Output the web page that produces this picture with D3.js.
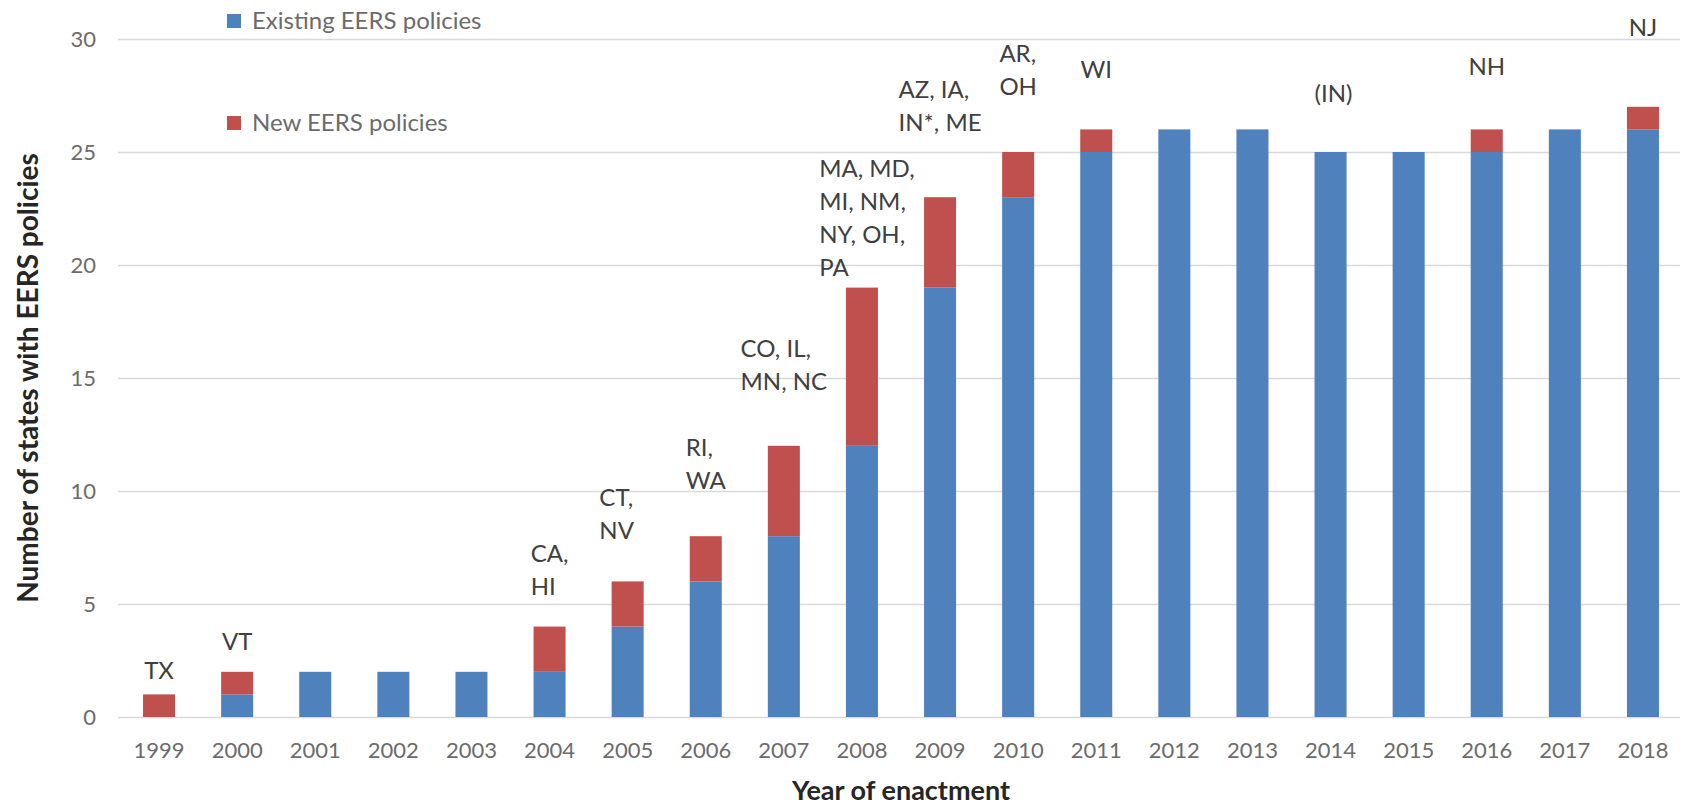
<!DOCTYPE html>
<html>
<head>
<meta charset="utf-8">
<script src="https://cdn.jsdelivr.net/npm/d3@7"></script>
<style>
  html, body { margin: 0; padding: 0; background: #fff; }
  svg { display: block; }
  text { font-family: Lato, "Open Sans", sans-serif; }
</style>
</head>
<body>
<svg id="chart" width="1687" height="811"></svg>
<script>
// Year of enactment
const years = ["1999","2000","2001","2002","2003","2004","2005","2006","2007","2008",
               "2009","2010","2011","2012","2013","2014","2015","2016","2017","2018"];
// States that already had an EERS policy
const existing = [0,1,2,2,2,2,4,6,8,12,19,23,25,26,26,25,25,25,26,26];
// States enacting a new EERS policy that year
const added    = [1,1,0,0,0,2,2,2,4,7,4,2,1,0,0,0,0,1,0,1];
// State abbreviations written above each bar (lines of the label)
const stateNotes = [
  ["TX"], ["VT"], [], [], [], ["CA,","HI"], ["CT,","NV"], ["RI,","WA"],
  ["CO, IL,","MN, NC"], ["MA, MD,","MI, NM,","NY, OH,","PA"], ["AZ, IA,","IN*, ME"],
  ["AR,","OH"], ["WI"], [], [], ["(IN)"], [], ["NH"], [], ["NJ"]
];
const yTicks = [0,5,10,15,20,25,30];
const seriesNames = ["Existing EERS policies","New EERS policies"];

const colors = { existing: "#4f81bd", added: "#c0504d" };

const svg = d3.select("#chart");
const plot = { left: 120, right: 1682, top: 39, bottom: 717 };

const x = d3.scaleBand()
  .domain(years)
  .range([plot.left, plot.right])
  .paddingInner(0.59)
  .paddingOuter(0.295);

const y = d3.scaleLinear()
  .domain([0, 30])
  .range([plot.bottom, plot.top]);

// horizontal gridlines
svg.append("g")
  .selectAll("line")
  .data(yTicks)
  .join("line")
  .attr("x1", plot.left - 2)
  .attr("x2", plot.right - 2)
  .attr("y1", d => Math.round(y(d)) + 0.5)
  .attr("y2", d => Math.round(y(d)) + 0.5)
  .attr("stroke", "#d9d9d9")
  .attr("stroke-width", 1.5);

// y axis tick labels
const yAxis = svg.append("g")
  .attr("transform", `translate(${plot.left - 24},0)`)
  .call(d3.axisLeft(y).tickValues(yTicks).tickSize(0).tickPadding(0));
yAxis.select(".domain").remove();
yAxis.selectAll("text")
  .attr("font-family", "Lato, sans-serif")
  .attr("font-size", 22)
  .attr("fill", "#6b6b6b");

// x axis tick labels
const xAxis = svg.append("g")
  .attr("transform", `translate(0,${plot.bottom + 25})`)
  .call(d3.axisBottom(x).tickSize(0).tickPadding(0));
xAxis.select(".domain").remove();
xAxis.selectAll("text")
  .attr("font-family", "Lato, sans-serif")
  .attr("font-size", 22)
  .attr("fill", "#6b6b6b");

// stacked bars
const rows = years.map((yr, i) => ({ year: yr, existing: existing[i], added: added[i] }));
const stack = d3.stack().keys(["existing", "added"])(rows);

svg.append("g")
  .selectAll("g")
  .data(stack)
  .join("g")
  .attr("fill", s => colors[s.key])
  .selectAll("rect")
  .data(s => s)
  .join("rect")
  .attr("x", d => x(d.data.year))
  .attr("width", x.bandwidth())
  .attr("y", d => y(d[1]))
  .attr("height", d => y(d[0]) - y(d[1]));

// state labels: lift above bar top (in axis units) and horizontal nudge
const noteLayout = {
  "1999": { lift: 1.06 }, "2000": { lift: 1.33 }, "2004": { lift: 1.77 },
  "2005": { lift: 2.26, dx: -11 }, "2006": { lift: 2.48 }, "2007": { lift: 2.83 },
  "2008": { lift: 0.88, dx: 5 }, "2009": { lift: 3.3 }, "2010": { lift: 2.9 },
  "2011": { lift: 2.65 }, "2014": { lift: 2.6, dx: 3 }, "2016": { lift: 2.8 },
  "2018": { lift: 3.5 }
};
const lineGap = 33;
const notes = svg.append("g");
rows.forEach((r, i) => {
  const lines = stateNotes[i];
  if (!lines.length) return;
  const lay = noteLayout[r.year] || { lift: 2 };
  const cx = x(r.year) + x.bandwidth() / 2 + (lay.dx || 0);
  const lastY = y(r.existing + r.added + lay.lift);
  const t = notes.append("text")
    .attr("font-size", 24)
    .attr("fill", "#404040")
    .attr("text-anchor", "start");
  lines.forEach((ln, k) => {
    t.append("tspan")
      .attr("y", lastY - (lines.length - 1 - k) * lineGap)
      .attr("dy", "0.35em")
      .text(ln);
  });
  // centre the left-aligned block over the bar
  let w = 0;
  t.selectAll("tspan").each(function () { w = Math.max(w, this.getComputedTextLength()); });
  t.selectAll("tspan").attr("x", cx - w / 2);
});

// legend
const legend = svg.append("g");
const legendRows = [
  { name: seriesNames[0], color: colors.existing, cy: 21 },
  { name: seriesNames[1], color: colors.added, cy: 123 }
];
legendRows.forEach(l => {
  legend.append("rect")
    .attr("x", 227).attr("y", l.cy - 7)
    .attr("width", 14).attr("height", 14)
    .attr("fill", l.color);
  legend.append("text")
    .attr("x", 252).attr("y", l.cy)
    .attr("dy", "0.35em")
    .attr("font-size", 24)
    .attr("fill", "#6b6b6b")
    .text(l.name);
});

// axis titles
svg.append("text")
  .attr("transform", `translate(28,${(plot.top + plot.bottom) / 2}) rotate(-90)`)
  .attr("text-anchor", "middle")
  .attr("dy", "0.35em")
  .attr("font-size", 28)
  .attr("font-weight", "bold")
  .attr("fill", "#262626")
  .text("Number of states with EERS policies");

svg.append("text")
  .attr("x", (plot.left + plot.right) / 2)
  .attr("y", 791)
  .attr("text-anchor", "middle")
  .attr("dy", "0.35em")
  .attr("font-size", 27)
  .attr("font-weight", "bold")
  .attr("fill", "#262626")
  .text("Year of enactment");
</script>
</body>
</html>
